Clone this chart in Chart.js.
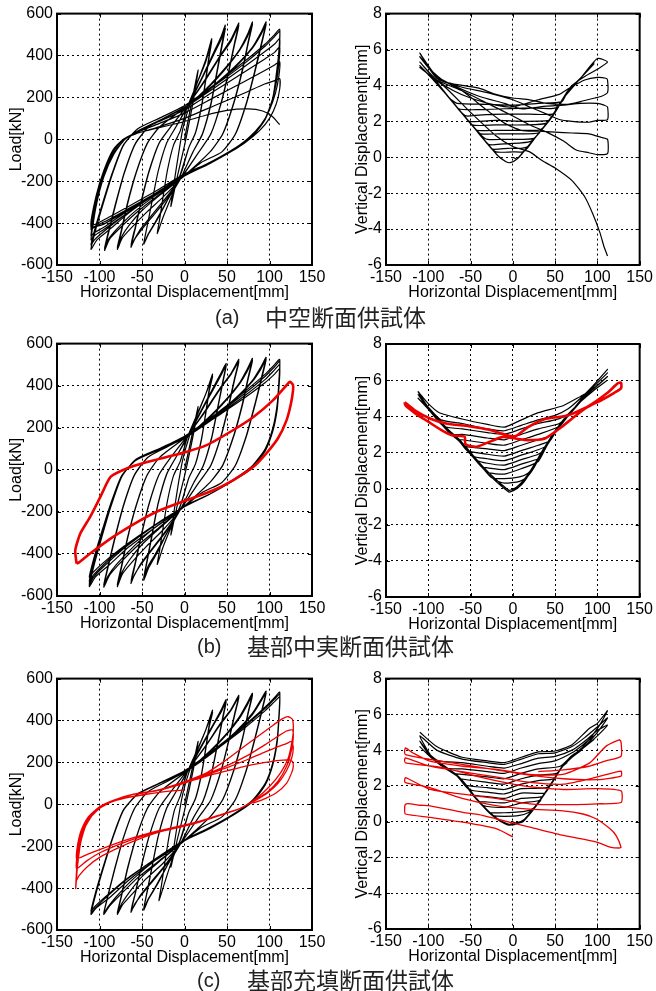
<!DOCTYPE html>
<html><head><meta charset="utf-8">
<script src="https://cdn.jsdelivr.net/npm/chart.js@4/dist/chart.umd.min.js"></script>
<style>
html,body{margin:0;padding:0;background:#fff}
body{width:656px;height:991px;position:relative;overflow:hidden;font-family:"Liberation Sans",Arial,sans-serif}
canvas{position:absolute}
.cl{position:absolute;font-family:"Liberation Sans",Arial,sans-serif;font-size:20px;color:#222;line-height:26px;white-space:pre}
.cj{position:absolute;font-family:"Noto Sans CJK JP",sans-serif;font-size:23px;color:#222;line-height:26px;white-space:pre}
</style></head><body>
<canvas id="aL" width="330" height="305" style="left:0;top:0"></canvas>
<canvas id="aR" width="326" height="305" style="left:330px;top:0"></canvas>
<canvas id="bL" width="330" height="306" style="left:0;top:330px"></canvas>
<canvas id="bR" width="326" height="307" style="left:330px;top:330px"></canvas>
<canvas id="cL" width="330" height="305" style="left:0;top:665px"></canvas>
<canvas id="cR" width="326" height="304" style="left:330px;top:665px"></canvas>
<div class="cl" style="left:215px;top:304px">(a)</div><div class="cj" style="left:265px;top:303px">中空断面供試体</div>
<div class="cl" style="left:197px;top:633px">(b)</div><div class="cj" style="left:247px;top:632px">基部中実断面供試体</div>
<div class="cl" style="left:197px;top:967px">(c)</div><div class="cj" style="left:247px;top:966px">基部充填断面供試体</div>
<script>
// ---- axis ticks ----
const xTicks = [-150,-100,-50,0,50,100,150];
const loadTicks = [-600,-400,-200,0,200,400,600];
const vertTicks = [-6,-4,-2,0,2,4,6,8];
const xTitle = 'Horizontal Displacement[mm]';
const loadTitle = 'Load[kN]';
const vertTitle = 'Vertical Displacement[mm]';

// ---- (a) hollow section: load vs horizontal displacement ----
const hollowLoad = [
[0,0],[8,170],[16,330],[12,220],[6,90],[0,-30],[-8,-170],[-16,-320],
[-12,-200],[-7,-70],[-2,50],[5,150],[15,270],[25,380],[32,480],
[29,402],[25,288],[20,158],[13,33],[5,-40],[-3,-150],[-15,-270],[-25,-370],[-32,-450],
[-29,-376],[-25,-269],[-20,-146],[-13,-29],[-5,40],[3,150],[15,270],[25,370],[32,470],
[29,393],[25,281],[20,154],[13,31],[5,-40],[-6,-180],[-20,-290],[-33,-390],[-42,-450],[-48,-500],
[-44,-416],[-38,-293],[-31,-153],[-21,-18],[-10,60],[5,170],[20,290],[35,420],[43,490],[48,545],
[44,454],[38,321],[31,170],[21,25],[10,-60],[-5,-190],[-20,-290],[-35,-400],[-43,-455],[-48,-500],
[-44,-416],[-38,-293],[-31,-153],[-21,-18],[-10,60],[5,165],[20,285],[35,410],[43,475],[48,530],
[44,441],[38,312],[31,164],[21,23],[10,-60],[-5,-190],[-22,-290],[-40,-380],[-52,-440],[-59,-480],[-63,-515],
[-58,-429],[-51,-302],[-42,-159],[-30,-20],[-16,60],[5,170],[25,290],[42,400],[55,480],[64,555],
[59,463],[52,327],[43,174],[31,26],[17,-60],[-5,-190],[-22,-280],[-40,-370],[-52,-430],[-63,-505],
[-58,-420],[-51,-296],[-42,-155],[-30,-19],[-16,60],[5,170],[25,285],[42,395],[55,470],[64,545],
[59,454],[52,321],[43,170],[31,25],[17,-60],[-5,-190],[-25,-275],[-45,-350],[-62,-420],[-73,-470],[-79,-525],
[-74,-437],[-67,-309],[-57,-162],[-44,-22],[-29,60],[5,165],[30,260],[50,350],[65,430],[74,500],[80,560],
[75,467],[68,331],[58,176],[45,27],[30,-60],[-5,-190],[-30,-270],[-50,-340],[-65,-410],[-74,-465],[-79,-515],
[-74,-429],[-67,-302],[-57,-159],[-44,-20],[-29,60],[5,165],[30,255],[50,345],[65,425],[74,490],[80,550],
[75,459],[68,324],[58,172],[45,25],[30,-60],[-5,-190],[-30,-265],[-55,-345],[-75,-420],[-88,-475],[-94,-530],
[-89,-442],[-81,-312],[-71,-164],[-58,-23],[-42,60],[-20,110],[5,165],[35,260],[60,350],[80,440],[90,510],[96,560],
[91,467],[83,331],[73,176],[60,27],[44,-60],[20,-110],[-5,-190],[-35,-270],[-60,-350],[-80,-430],[-90,-480],[-94,-520],
[-89,-433],[-81,-305],[-71,-160],[-58,-21],[-42,60],[-20,110],[5,165],[35,255],[60,345],[80,435],[90,500],[96,550],
[91,459],[83,324],[73,172],[60,25],[44,-60],[20,-110],[-5,-190],[-35,-265],[-65,-350],[-88,-430],[-103,-480],[-110,-525],
[-105,-439],[-96,-312],[-85,-168],[-72,-30],[-55,50],[-30,100],[0,160],[35,260],[70,370],[95,455],[106,500],[112,525],
[111,420],[108,310],[104,200],[95,100],[80,20],[60,-40],[30,-110],[0,-170],[-35,-260],[-70,-360],[-95,-440],[-106,-480],[-110,-505],
[-105,-422],[-96,-300],[-85,-161],[-72,-28],[-55,50],[-30,100],[0,160],[35,255],[70,360],[95,445],[106,490],[112,515],
[111,410],[108,300],[104,195],[95,95],[80,15],[60,-45],[30,-115],[0,-175],[-35,-265],[-70,-360],[-95,-430],[-106,-460],[-110,-480],
[-104,-320],[-95,-180],[-83,-70],[-70,0],[-55,40],[-30,90],[0,150],[35,245],[70,345],[95,420],[106,455],[112,480],
[111,380],[108,280],[103,180],[94,90],[80,15],[60,-45],[30,-115],[0,-175],[-35,-265],[-70,-350],[-95,-420],[-106,-445],[-110,-460],
[-104,-310],[-95,-175],[-83,-65],[-70,0],[-55,38],[-30,85],[0,140],[35,230],[70,320],[95,385],[106,415],[112,440],
[111,360],[108,270],[102,170],[93,85],[78,10],[60,-45],[30,-115],[0,-175],[-35,-265],[-70,-345],[-95,-405],[-106,-420],[-110,-430],
[-104,-290],[-95,-165],[-84,-60],[-72,0],[-58,30],[-30,75],[0,125],[35,200],[70,275],[95,330],[106,355],[112,370],
[111,300],[107,220],[100,140],[90,70],[75,5],[55,-55],[30,-115],[0,-175],[-35,-260],[-70,-340],[-95,-395],[-110,-420],
[-104,-280],[-95,-160],[-84,-55],[-72,0],[-58,25],[-30,60],[0,100],[35,160],[70,220],[95,265],[106,280],[112,290],
[112,240],[108,170],[100,100],[88,40],[70,-20],[50,-70],[25,-120],[0,-165],[-35,-250],[-70,-330],[-95,-385],[-110,-410],
[-104,-270],[-95,-150],[-84,-50],[-72,0],[-55,30],[-30,55],[0,85],[25,115],[50,138],[75,145],[92,135],[103,110],[112,70]
];

// ---- (a) hollow section: vertical vs horizontal displacement ----
const hollowVert = [
[0,0],[5,-0.1],[16,0.5],[5,-0.1],[-3,-0.3],[-8,-0.25],[-16,0.0],
[-8,-0.25],[-3,-0.3],[5,-0.1],[15,0.45],[30,1.3],[32,1.4],
[25,1.0],[17,0.5],[12,0.3],[0,0.3],[-20,0.3],[-30,0.75],[-32,0.85],
[-18,0.1],[-8,-0.25],[-3,-0.3],[5,-0.1],[15,0.45],[30,1.3],[32,1.4],
[22,0.85],[18,0.6],[10,0.5],[-5,0.5],[-24,0.45],[-30,0.75],[-40,1.3],[-48,1.8],
[-45,1.6],[-30,0.75],[-18,0.1],[-8,-0.25],[-3,-0.3],[5,-0.1],[15,0.45],[30,1.3],[45,2.2],[48,2.4],
[40,1.9],[30,1.3],[22,0.9],[10,0.8],[-10,0.75],[-28,0.7],[-35,1.05],[-45,1.6],[-48,1.8],
[-40,1.3],[-30,0.75],[-18,0.1],[-8,-0.25],[-3,-0.3],[5,-0.1],[15,0.45],[30,1.3],[45,2.2],[48,2.4],
[35,1.6],[25,1.05],[10,1.0],[-10,1.0],[-30,1.0],[-38,1.25],[-50,1.9],[-63,2.6],
[-45,1.6],[-30,0.75],[-18,0.1],[-8,-0.25],[-3,-0.3],[5,-0.1],[15,0.45],[30,1.3],[45,2.2],[55,2.9],[64,3.6],
[50,2.5],[38,1.75],[30,1.35],[10,1.3],[-15,1.3],[-38,1.3],[-42,1.45],[-55,2.15],[-63,2.6],
[-50,1.9],[-30,0.75],[-18,0.1],[-8,-0.25],[-3,-0.3],[5,-0.1],[15,0.45],[30,1.3],[45,2.2],[55,2.9],[64,3.6],
[48,2.35],[33,1.55],[10,1.5],[-20,1.5],[-42,1.5],[-50,1.9],[-60,2.45],[-79,3.5],
[-60,2.45],[-45,1.6],[-30,0.75],[-18,0.1],[-8,-0.25],[-3,-0.3],[5,-0.1],[15,0.45],[30,1.3],[45,2.2],[55,2.9],[65,3.7],[80,4.4],
[65,3.7],[50,2.55],[40,1.9],[15,1.8],[-20,1.8],[-48,1.8],[-60,2.45],[-79,3.5],
[-60,2.45],[-45,1.6],[-30,0.75],[-18,0.1],[-8,-0.25],[-3,-0.3],[5,-0.1],[15,0.45],[30,1.3],[45,2.2],[55,2.9],[65,3.7],[80,4.4],
[60,3.3],[45,2.2],[43,2.05],[15,2.0],[-20,2.05],[-51,2.0],[-60,2.45],[-75,3.3],[-94,4.3],
[-75,3.3],[-60,2.45],[-45,1.6],[-30,0.75],[-18,0.1],[-8,-0.25],[-3,-0.3],[5,-0.1],[15,0.45],[30,1.3],[45,2.2],[55,2.9],[65,3.7],[80,4.4],[96,5.2],
[80,4.4],[65,3.7],[52,2.7],[47,2.4],[20,2.4],[-10,2.4],[-40,2.35],[-55,2.3],[-62,2.55],[-75,3.3],[-94,4.3],
[-75,3.3],[-60,2.45],[-45,1.6],[-30,0.75],[-18,0.1],[-8,-0.25],[-3,-0.3],[5,-0.1],[15,0.45],[30,1.3],[45,2.2],[55,2.9],[65,3.7],[80,4.4],[96,5.3],
[80,4.4],[65,3.7],[51,2.75],[20,2.75],[-10,2.7],[-40,2.65],[-64,2.7],[-75,3.3],[-90,4.1],[-110,5.1],
[-87,4.0],[-75,3.3],[-60,2.45],[-45,1.6],[-30,0.75],[-18,0.1],[-8,-0.25],[-3,-0.3],[5,-0.1],[15,0.45],[30,1.3],[45,2.2],[55,2.9],[65,3.7],[80,4.4],[100,5.5],[112,5.3],
[100,4.9],[85,4.5],[70,4.0],[65,3.7],[58,3.1],[30,3.0],[0,2.9],[-30,2.95],[-66,3.0],[-75,3.3],[-90,4.2],[-110,5.3],
[-90,4.3],[-70,3.7],[-50,3.3],[-20,2.9],[0,2.8],[30,3.2],[55,3.5],[65,3.8],[85,4.3],[100,4.45],[110,4.4],[112,4.3],[112,3.6],[105,3.4],[97,3.3],[80,3.1],[65,2.95],[40,3.0],[20,3.2],[0,3.3],[-20,3.5],[-40,3.85],[-60,4.0],[-80,4.2],[-100,5.0],[-110,5.6],
[-90,4.5],[-70,4.0],[-40,3.4],[-10,3.0],[10,2.7],[40,2.85],[60,2.9],[80,3.0],[100,3.0],[108,2.9],[112,2.8],[112,2.1],[100,2.05],[90,1.95],[70,2.0],[55,2.1],[40,2.4],[20,2.8],[0,3.2],[-30,3.6],[-60,3.9],[-90,4.4],[-110,5.8],
[-90,4.5],[-60,3.7],[-30,2.6],[-10,1.9],[10,1.5],[30,1.45],[50,1.4],[70,1.35],[90,1.3],[105,1.1],[112,1.0],[112,0.2],[100,0.15],[90,0.25],[75,0.4],[60,0.9],[40,1.4],[20,1.8],[0,2.3],[-30,3.0],[-60,3.7],[-90,4.3],[-110,5.0],
[-80,3.9],[-50,2.5],[-20,1.2],[0,0.6],[20,0.3],[35,-0.2],[50,-0.6],[70,-1.3],[85,-2.2],[95,-3.2],[103,-4.2],[108,-5.0],[112,-5.5]
];

// ---- (b) solid base section ----
const solidLoad = [
[0,0],[8,150],[16,300],[12,200],[6,80],[0,-30],[-8,-160],[-16,-310],
[-12,-190],[-7,-60],[-2,50],[5,150],[15,260],[25,360],[33,455],
[29,381],[25,272],[20,148],[13,29],[5,-40],[-3,-150],[-15,-265],[-25,-365],[-32,-450],
[-29,-376],[-25,-269],[-20,-146],[-13,-29],[-5,40],[3,150],[15,265],[25,360],[33,445],
[29,372],[25,266],[20,144],[13,28],[5,-40],[-6,-185],[-20,-295],[-33,-400],[-42,-465],[-48,-525],
[-44,-437],[-38,-309],[-31,-162],[-21,-22],[-10,60],[5,170],[20,285],[35,400],[43,460],[49,505],
[45,420],[39,296],[32,155],[22,19],[11,-60],[-5,-190],[-20,-295],[-35,-405],[-43,-460],[-48,-515],
[-44,-429],[-38,-302],[-31,-159],[-21,-20],[-10,60],[5,165],[20,280],[35,390],[43,450],[49,495],
[45,412],[39,290],[32,151],[22,18],[11,-60],[-5,-190],[-22,-295],[-40,-390],[-52,-455],[-59,-500],[-63,-540],
[-58,-450],[-51,-318],[-42,-168],[-30,-24],[-16,60],[5,170],[25,285],[42,390],[55,460],[64,525],
[59,437],[52,309],[43,162],[31,22],[17,-60],[-5,-190],[-22,-290],[-40,-385],[-52,-450],[-63,-530],
[-58,-442],[-51,-312],[-42,-164],[-30,-23],[-16,60],[5,170],[25,280],[42,385],[55,455],[64,515],
[59,429],[52,302],[43,159],[31,20],[17,-60],[-5,-190],[-25,-285],[-45,-365],[-62,-440],[-73,-495],[-79,-555],
[-74,-463],[-67,-327],[-57,-174],[-44,-26],[-29,60],[5,165],[30,255],[50,340],[65,415],[74,480],[80,530],
[75,442],[68,312],[58,164],[45,23],[30,-60],[-5,-190],[-30,-280],[-50,-355],[-65,-430],[-74,-490],[-79,-545],
[-74,-454],[-67,-321],[-57,-170],[-44,-25],[-29,60],[5,165],[30,250],[50,335],[65,410],[74,470],[80,520],
[75,433],[68,305],[58,160],[45,21],[30,-60],[-5,-190],[-30,-275],[-55,-360],[-75,-440],[-88,-500],[-95,-558],
[-90,-465],[-82,-329],[-72,-175],[-59,-27],[-43,60],[-20,110],[5,165],[35,255],[60,340],[80,425],[90,490],[96,535],
[91,446],[83,315],[73,166],[60,23],[44,-60],[20,-110],[-5,-190],[-35,-275],[-60,-365],[-80,-450],[-90,-505],[-95,-548],
[-90,-457],[-82,-323],[-72,-171],[-59,-25],[-43,60],[-20,110],[5,165],[35,250],[60,335],[80,420],[90,480],[96,525],
[91,437],[83,309],[73,162],[60,22],[44,-60],[20,-110],[-5,-190],[-35,-275],[-65,-365],[-88,-450],[-105,-510],[-112,-555],
[-107,-464],[-98,-331],[-87,-180],[-74,-35],[-57,50],[-30,100],[0,160],[35,260],[70,370],[95,455],[106,500],[112,525],
[111,420],[109,310],[104,200],[95,100],[80,20],[60,-40],[30,-115],[0,-175],[-35,-265],[-70,-370],[-95,-460],[-107,-510],[-112,-545],
[-107,-456],[-98,-325],[-87,-176],[-74,-33],[-57,50],[-30,100],[0,160],[35,255],[70,360],[95,445],[106,490],[112,515],
[111,410],[109,300],[104,195],[95,95],[80,15],[60,-45],[30,-115],[0,-175],[-35,-265],[-70,-365],[-95,-450],[-107,-500],[-112,-530],
[-107,-443],[-98,-315],[-87,-170],[-74,-31],[-57,48],[-30,98],[0,155],[35,250],[70,350],[95,430],[106,475],[112,500],
[111,400],[109,295],[104,190],[95,92],[80,12],[60,-45],[30,-115],[0,-175],[-35,-262],[-70,-360],[-95,-440],[-107,-485],[-112,-510],
[-107,-426],[-98,-303],[-87,-163],[-74,-28],[-57,45],[-30,95],[0,150],[35,245],[70,340],[95,415],[106,455],[112,480],
[111,385],[109,285],[104,185],[95,90],[80,10],[60,-45],[30,-115],[0,-170]
];
const solidLoadRed = [
[-127,-446],[-128.5,-382],[-122.6,-303],[-111,-224],[-99,-129],[-87,-34],[-68,6],[-44,37],[-21,61],[2,85],[26,117],[57,188],[81,251],[104,330],[120,402],[124,418],[127.5,405],[127.7,378],
[125,310],[120,235],[110,150],[96,77],[81,14],[57,-50],[34,-97],[2,-145],[-29,-192],[-52,-240],[-84,-319],[-111,-398],[-124,-440],[-127,-446]
];
const solidVert = [
[0,0],[5,0.0],[16,0.55],[10,0.2],[-4,-0.2],[-10,0.0],[-16,0.25],
[-10,0.0],[-4,-0.2],[5,0.0],[15,0.5],[25,1.2],[33,1.85],
[25,1.15],[18,0.7],[8,0.4],[-10,0.3],[-22,0.5],[-32,0.95],
[-20,0.4],[-10,0.0],[-4,-0.2],[5,0.0],[15,0.5],[25,1.2],[33,1.85],
[26,1.3],[18,0.85],[8,0.65],[-10,0.55],[-25,0.6],[-35,1.1],[-48,1.8],
[-35,1.1],[-20,0.4],[-10,0.0],[-4,-0.2],[5,0.0],[15,0.5],[25,1.2],[35,2.0],[49,3.0],
[40,2.35],[30,1.5],[10,1.1],[-10,0.8],[-30,0.9],[-40,1.35],[-48,1.8],
[-35,1.1],[-20,0.4],[-10,0.0],[-4,-0.2],[5,0.0],[15,0.5],[25,1.2],[35,2.0],[49,3.0],
[40,2.4],[33,1.85],[30,1.65],[10,1.35],[-10,1.05],[-30,1.15],[-37,1.2],[-50,1.9],[-63,2.6],
[-50,1.9],[-35,1.1],[-20,0.4],[-10,0.0],[-4,-0.2],[5,0.0],[15,0.5],[25,1.2],[35,2.0],[50,3.1],[64,3.95],
[50,3.1],[37,2.15],[30,1.9],[10,1.6],[-10,1.3],[-30,1.4],[-44,1.6],[-50,1.9],[-63,2.6],
[-50,1.9],[-35,1.1],[-20,0.4],[-10,0.0],[-4,-0.2],[5,0.0],[15,0.5],[25,1.2],[35,2.0],[50,3.1],[64,3.95],
[50,3.1],[39,2.35],[30,2.15],[10,1.85],[-10,1.55],[-30,1.65],[-48,1.8],[-63,2.6],[-79,3.3],
[-63,2.6],[-50,1.9],[-35,1.1],[-20,0.4],[-10,0.0],[-4,-0.2],[5,0.0],[15,0.5],[25,1.2],[35,2.0],[50,3.1],[65,4.0],[80,4.8],
[65,4.0],[50,3.1],[44,2.65],[30,2.4],[10,2.1],[-10,1.8],[-30,1.9],[-54,2.1],[-63,2.6],[-79,3.3],
[-63,2.6],[-50,1.9],[-35,1.1],[-20,0.4],[-10,0.0],[-4,-0.2],[5,0.0],[15,0.5],[25,1.2],[35,2.0],[50,3.1],[65,4.0],[80,4.8],
[65,4.0],[52,3.2],[47,2.95],[30,2.7],[10,2.4],[-10,2.1],[-30,2.2],[-58,2.35],[-63,2.6],[-75,3.1],[-87,3.7],[-95,4.2],
[-87,3.7],[-75,3.1],[-63,2.6],[-50,1.9],[-35,1.1],[-20,0.4],[-10,0.0],[-4,-0.2],[5,0.0],[15,0.5],[25,1.2],[35,2.0],[50,3.1],[65,4.0],[80,4.8],[96,5.6],
[80,4.8],[65,4.0],[55,3.45],[30,3.0],[10,2.7],[-10,2.4],[-30,2.5],[-60,2.7],[-65,2.7],[-75,3.1],[-87,3.7],[-95,4.2],
[-87,3.7],[-75,3.1],[-63,2.6],[-50,1.9],[-35,1.1],[-20,0.4],[-10,0.0],[-4,-0.2],[5,0.0],[15,0.5],[25,1.2],[35,2.0],[50,3.1],[65,4.0],[80,4.8],[96,5.7],
[80,4.8],[65,4.0],[55,3.6],[30,3.3],[10,3.0],[-10,2.7],[-30,2.8],[-60,3.0],[-73,3.0],[-87,3.7],[-100,4.4],[-112,5.0],
[-100,4.4],[-87,3.7],[-75,3.1],[-63,2.6],[-50,1.9],[-35,1.1],[-20,0.4],[-10,0.0],[-4,-0.2],[5,0.0],[15,0.5],[25,1.2],[35,2.0],[50,3.1],[65,4.0],[80,4.8],[95,5.6],[112,6.4],
[95,5.6],[80,4.8],[65,4.1],[50,3.8],[30,3.6],[10,3.3],[-10,3.0],[-30,3.1],[-60,3.3],[-82,3.45],[-100,4.4],[-112,5.0],
[-100,4.4],[-87,3.7],[-75,3.1],[-63,2.6],[-50,1.9],[-35,1.1],[-20,0.4],[-10,0.0],[-4,-0.2],[5,0.0],[15,0.5],[25,1.2],[35,2.0],[50,3.1],[65,4.0],[80,4.9],[95,5.7],[112,6.6],
[95,5.7],[80,5.0],[65,4.4],[50,4.05],[30,3.8],[10,3.5],[-10,3.2],[-30,3.3],[-60,3.6],[-85,3.8],[-100,4.5],[-112,5.2],
[-100,4.4],[-87,3.7],[-75,3.1],[-63,2.6],[-50,1.9],[-35,1.1],[-20,0.4],[-10,0.0],[-4,-0.2],[5,0.0],[15,0.5],[25,1.2],[35,2.0],[50,3.1],[65,4.0],[80,4.8],[95,5.5],[112,6.2],
[95,5.5],[80,5.1],[60,4.6],[30,4.2],[10,3.8],[-10,3.4],[-30,3.55],[-60,3.85],[-87,4.2],[-100,4.7],[-112,5.36],
[-100,4.5],[-87,3.8],[-75,3.2],[-63,2.7],[-50,2.0],[-35,1.2],[-20,0.5],[-10,0.1],[-4,-0.1],[5,0.1],[15,0.6],[25,1.3],[35,2.1],[50,3.2],[65,4.1],[80,4.8],[95,5.4],[112,6.0]
];
const solidVertRed = [
[-128,4.78],[-115,4.3],[-98,3.88],[-79,3.6],[-52,3.45],[-28,3.25],[-9,2.98],[3,2.9],[18,3.4],[38,3.85],[65,4.05],[89,4.55],[112,5.3],[124,5.82],[128,5.86],[128,5.55],
[120,5.3],[105,4.9],[88,4.5],[72,3.95],[58,3.42],[38,2.77],[18,2.68],[3,2.77],[-12,2.86],[-32,2.5],[-44,2.31],[-56,2.45],[-57,2.87],[-72,2.95],[-85,3.25],[-100,3.7],[-115,4.15],[-127,4.6],[-128,4.78]
];

// ---- (c) filled base section ----
const filledLoad = [
[0,0],[8,150],[16,300],[12,200],[6,80],[0,-30],[-8,-160],[-16,-300],
[-12,-190],[-7,-60],[-2,50],[5,150],[15,255],[25,355],[33,450],
[29,377],[25,269],[20,146],[13,29],[5,-40],[-3,-150],[-15,-270],[-23,-370],[-30,-460],
[-27,-385],[-23,-275],[-18,-150],[-12,-30],[-5,40],[3,150],[15,260],[25,355],[33,440],
[29,368],[25,262],[20,142],[13,27],[5,-40],[-6,-180],[-20,-290],[-33,-390],[-42,-450],[-48,-505],
[-44,-420],[-38,-296],[-31,-155],[-21,-19],[-10,60],[5,170],[20,280],[35,390],[43,450],[49,500],
[45,416],[39,293],[32,153],[22,18],[11,-60],[-5,-190],[-20,-290],[-35,-400],[-43,-455],[-48,-500],
[-44,-416],[-38,-293],[-31,-153],[-21,-18],[-10,60],[5,165],[20,275],[35,385],[43,440],[49,490],
[45,408],[39,287],[32,149],[22,17],[11,-60],[-5,-190],[-22,-290],[-40,-380],[-52,-440],[-59,-480],[-63,-515],
[-58,-429],[-51,-302],[-42,-159],[-30,-20],[-16,60],[5,170],[25,280],[42,385],[55,455],[64,520],
[59,433],[52,305],[43,160],[31,21],[17,-60],[-5,-190],[-22,-285],[-40,-375],[-52,-435],[-63,-510],
[-58,-425],[-51,-299],[-42,-157],[-30,-20],[-16,60],[5,170],[25,278],[42,380],[55,450],[64,512],
[59,426],[52,300],[43,157],[31,20],[17,-60],[-5,-190],[-25,-280],[-45,-355],[-62,-430],[-73,-480],[-79,-525],
[-74,-437],[-67,-309],[-57,-162],[-44,-22],[-29,60],[5,165],[30,255],[50,340],[65,420],[74,485],[80,530],
[75,442],[68,312],[58,164],[45,23],[30,-60],[-5,-190],[-30,-275],[-50,-345],[-65,-420],[-74,-475],[-79,-518],
[-74,-431],[-67,-304],[-57,-160],[-44,-21],[-29,60],[5,165],[30,250],[50,335],[65,412],[74,475],[80,522],
[75,435],[68,307],[58,161],[45,22],[30,-60],[-5,-190],[-30,-270],[-55,-350],[-75,-430],[-88,-485],[-95,-525],
[-90,-437],[-82,-309],[-72,-162],[-59,-22],[-43,60],[-20,110],[5,165],[35,255],[60,345],[80,435],[90,500],[96,540],
[91,450],[83,318],[73,168],[60,24],[44,-60],[20,-110],[-5,-190],[-35,-270],[-60,-355],[-80,-440],[-90,-490],[-95,-520],
[-90,-433],[-82,-305],[-72,-160],[-59,-21],[-43,60],[-20,110],[5,165],[35,252],[60,340],[80,428],[90,492],[96,532],
[91,443],[83,313],[73,165],[60,23],[44,-60],[20,-110],[-5,-190],[-35,-270],[-65,-360],[-88,-445],[-104,-495],[-110,-525],
[-105,-439],[-96,-312],[-85,-168],[-72,-30],[-55,50],[-30,100],[0,160],[35,262],[70,375],[95,465],[106,510],[112,535],
[111,420],[109,310],[104,200],[95,100],[80,20],[60,-40],[30,-110],[0,-170],[-35,-262],[-70,-365],[-95,-455],[-106,-500],[-110,-520],
[-105,-435],[-96,-309],[-85,-167],[-72,-30],[-55,50],[-30,100],[0,160],[35,260],[70,370],[95,458],[106,502],[112,525],
[111,412],[109,302],[104,196],[95,96],[80,16],[60,-44],[30,-114],[0,-174],[-35,-264],[-70,-362],[-95,-448],[-106,-490],[-110,-510],
[-105,-426],[-96,-303],[-85,-163],[-72,-28],[-55,48],[-30,98],[0,156],[35,255],[70,362],[95,447],[106,490],[112,512],
[111,400],[109,295],[104,190],[95,92],[80,12],[60,-45],[30,-115],[0,-172]
];
const filledLoadRed = [
[0,68],[-20,62],[-45,48],[-70,30],[-88,8],[-105,-35],[-117,-110],[-124,-220],[-127,-320],[-128,-402],
[-126,-300],[-122,-180],[-114,-80],[-100,-20],[-83,18],[-60,48],[-33,66],[-13,90],[3,112],[26,150],[45,200],[65,260],[85,320],[105,380],[115,408],[122,418],[127,405],[128,350],
[126,290],[122,220],[113,150],[100,85],[85,30],[65,-21],[42,-53],[18,-85],[-5,-109],[-29,-132],[-52,-164],[-76,-204],[-99,-251],[-115,-300],[-124,-340],[-127,-362],
[-126,-270],[-122,-165],[-114,-75],[-100,-18],[-83,18],[-60,48],[-33,66],[-13,88],[3,110],[26,145],[50,185],[75,235],[95,285],[110,325],[120,350],[127,355],
[128,320],[126,260],[120,180],[110,110],[98,60],[85,25],[65,-20],[42,-52],[18,-83],[-5,-106],[-29,-128],[-52,-155],[-76,-190],[-99,-230],[-115,-270],[-127,-307],
[-126,-230],[-122,-150],[-114,-70],[-100,-15],[-83,20],[-60,48],[-33,65],[-13,86],[3,108],[26,140],[50,175],[75,215],[95,250],[110,275],[120,290],[126,300],
[128,270],[126,220],[120,160],[110,100],[98,55],[85,22],[65,-20],[42,-50],[18,-80],[-5,-103],[-29,-125],[-52,-150],[-76,-180],[-99,-215],[-115,-240],[-127,-259],
[-126,-200],[-122,-130],[-114,-65],[-100,-12],[-83,20],[-60,47],[-33,64],[-13,85],[3,105],[26,135],[50,160],[75,185],[95,200],[112,210],[122,212],[127,205],[128,180],
[126,150],[120,100],[108,55],[92,22],[80,5]
];
const filledVert = [
[0,0],[5,-0.1],[16,0.2],[8,-0.05],[-4,-0.2],[-10,-0.1],[-16,0.05],
[-10,-0.1],[-4,-0.2],[5,-0.1],[12,0.0],[20,0.45],[28,0.9],[33,1.2],
[25,0.75],[18,0.5],[8,0.35],[-10,0.3],[-24,0.35],[-30,0.6],
[-19,0.15],[-10,-0.1],[-4,-0.2],[5,-0.1],[12,0.0],[20,0.45],[28,0.9],[33,1.2],
[27,0.85],[20,0.65],[8,0.55],[-10,0.5],[-27,0.5],[-30,0.6],[-43,1.26],[-48,1.5],
[-43,1.26],[-30,0.6],[-19,0.15],[-10,-0.1],[-4,-0.2],[5,-0.1],[12,0.0],[28,0.9],[44,2.0],[49,2.35],
[40,1.75],[32,1.2],[10,1.05],[-10,0.8],[-30,0.85],[-37,0.95],[-43,1.26],[-48,1.5],
[-43,1.26],[-30,0.6],[-19,0.15],[-10,-0.1],[-4,-0.2],[5,-0.1],[12,0.0],[28,0.9],[44,2.0],[49,2.35],
[40,1.75],[35,1.4],[10,1.3],[-10,1.05],[-30,1.1],[-41,1.15],[-55,2.0],[-63,2.4],
[-55,2.0],[-43,1.26],[-30,0.6],[-19,0.15],[-10,-0.1],[-4,-0.2],[5,-0.1],[12,0.0],[28,0.9],[44,2.0],[59,3.1],[64,3.3],
[59,3.1],[44,2.0],[38,1.6],[10,1.6],[-10,1.3],[-30,1.4],[-47,1.5],[-55,2.0],[-63,2.4],
[-55,2.0],[-43,1.26],[-30,0.6],[-19,0.15],[-10,-0.1],[-4,-0.2],[5,-0.1],[12,0.0],[28,0.9],[44,2.0],[59,3.1],[64,3.3],
[59,3.1],[48,2.3],[40,1.9],[10,1.85],[-10,1.55],[-30,1.65],[-52,1.8],[-66,2.55],[-79,2.95],
[-66,2.55],[-55,2.0],[-43,1.26],[-30,0.6],[-19,0.15],[-10,-0.1],[-4,-0.2],[5,-0.1],[12,0.0],[28,0.9],[44,2.0],[59,3.1],[70,3.6],[80,3.95],
[70,3.6],[59,3.1],[48,2.4],[30,2.3],[10,2.1],[-10,1.8],[-30,1.9],[-56,2.05],[-66,2.55],[-79,2.95],
[-66,2.55],[-55,2.0],[-43,1.26],[-30,0.6],[-19,0.15],[-10,-0.1],[-4,-0.2],[5,-0.1],[12,0.0],[28,0.9],[44,2.0],[59,3.1],[70,3.6],[80,4.0],
[70,3.6],[59,3.1],[52,2.7],[30,2.6],[10,2.4],[-10,2.1],[-30,2.2],[-62,2.4],[-66,2.55],[-85,3.2],[-95,3.5],
[-85,3.2],[-66,2.55],[-55,2.0],[-43,1.26],[-30,0.6],[-19,0.15],[-10,-0.1],[-4,-0.2],[5,-0.1],[12,0.0],[28,0.9],[44,2.0],[59,3.1],[70,3.6],[83,4.1],[96,4.6],
[83,4.1],[70,3.7],[56,3.1],[30,2.95],[10,2.7],[-10,2.4],[-30,2.5],[-60,2.65],[-70,2.7],[-85,3.2],[-95,3.5],
[-85,3.2],[-66,2.55],[-55,2.0],[-43,1.26],[-30,0.6],[-19,0.15],[-10,-0.1],[-4,-0.2],[5,-0.1],[12,0.0],[28,0.9],[44,2.0],[59,3.1],[70,3.6],[83,4.1],[96,4.8],
[83,4.3],[70,3.85],[50,3.4],[30,3.25],[10,3.0],[-10,2.7],[-30,2.8],[-60,2.95],[-80,3.0],[-97,3.6],[-110,4.2],
[-97,3.6],[-85,3.2],[-66,2.55],[-55,2.0],[-43,1.26],[-30,0.6],[-19,0.15],[-10,-0.1],[-4,-0.2],[5,-0.1],[12,0.0],[28,0.9],[44,2.0],[59,3.1],[70,3.6],[83,4.1],[100,4.8],[112,5.4],
[100,5.1],[85,4.5],[70,4.0],[50,3.65],[30,3.55],[10,3.25],[-10,3.0],[-30,3.1],[-60,3.3],[-88,3.4],[-97,3.7],[-110,4.5],
[-97,3.6],[-85,3.2],[-66,2.55],[-55,2.0],[-43,1.26],[-30,0.6],[-19,0.15],[-10,-0.1],[-4,-0.2],[5,-0.1],[12,0.0],[28,0.9],[44,2.0],[59,3.1],[70,3.6],[83,4.1],[100,5.0],[112,5.8],
[100,5.3],[85,4.7],[70,4.2],[50,3.85],[30,3.8],[10,3.5],[-10,3.2],[-30,3.3],[-60,3.5],[-90,4.0],[-110,4.8],
[-97,3.7],[-85,3.25],[-66,2.6],[-55,2.05],[-43,1.3],[-30,0.65],[-19,0.2],[-10,-0.05],[-4,-0.15],[5,-0.05],[12,0.05],[28,0.95],[44,2.05],[59,3.15],[70,3.65],[83,4.2],[100,5.2],[112,6.2],
[100,5.5],[90,5.2],[70,4.3],[50,3.95],[30,3.9],[10,3.6],[-10,3.3],[-30,3.4],[-60,3.6],[-90,4.2],[-110,5.0]
];
const filledVertRed = [
[0,-0.85],[-19,-0.4],[-59,-0.03],[-98,0.24],[-127,0.43],[-128,0.7],[-127,0.98],[-121,1.0],[-110,0.92],[-98,0.89],[-59,0.52],[-40,0.4],[-19,0.15],[20,-0.3],[60,-0.77],[99,-1.14],[115,-1.42],[126,-1.47],[128,-1.42],
[122,-0.77],[115,-0.4],[99,0.15],[83,0.43],[59,0.61],[20,0.7],[-20,0.9],[-60,1.3],[-98,1.9],[-127,2.18],
[-128,2.3],[-127,2.46],[-98,1.81],[-59,1.54],[-20,1.3],[20,1.0],[60,0.95],[100,1.0],[128,1.07],
[128,1.72],[100,1.85],[60,1.8],[30,1.9],[0,2.1],[-40,2.5],[-80,3.0],[-127,3.29],
[-128,3.45],[-127,3.57],[-98,3.1],[-60,2.8],[-20,2.5],[20,2.2],[60,2.1],[100,2.5],[128,2.83],
[128,2.55],[100,2.35],[60,2.4],[20,2.6],[-20,2.9],[-60,3.2],[-100,3.5],[-127,3.75],
[-128,3.9],[-127,4.12],[-118,3.84],[-98,3.38],[-59,3.1],[-19,2.92],[20,2.64],[59,2.64],[91,3.29],[110,4.21],[126,4.58],[128,4.45],[128,3.66],
[110,3.4],[90,3.1],[60,2.9],[30,2.8]
];

// ---- drawing ----
Chart.defaults.font.family = "'Liberation Sans', Arial, sans-serif";
Chart.defaults.font.size = 16;
Chart.defaults.color = '#000';

const framePlugin = {
  id: 'frame',
  afterDatasetsDraw(chart) {
    const {ctx, chartArea: {left, top, right, bottom}, scales: {x, y}} = chart;
    ctx.save();
    ctx.strokeStyle = '#000';
    ctx.lineWidth = 1;
    ctx.beginPath();
    x.ticks.forEach(t => { const p = Math.round(x.getPixelForValue(t.value)) + 0.5;
      ctx.moveTo(p, bottom); ctx.lineTo(p, bottom - 4); ctx.moveTo(p, top); ctx.lineTo(p, top + 4); });
    y.ticks.forEach(t => { const p = Math.round(y.getPixelForValue(t.value)) + 0.5;
      ctx.moveTo(left, p); ctx.lineTo(left + 4, p); ctx.moveTo(right, p); ctx.lineTo(right - 4, p); });
    ctx.stroke();
    ctx.lineWidth = 2;
    ctx.strokeRect(left, top, right - left, bottom - top);
    ctx.restore();
  }
};

function series(data, color, width) {
  return { data: data, showLine: true, borderColor: color, borderWidth: width, pointRadius: 0,
           pointHoverRadius: 0, tension: 0.2, fill: false, borderJoinStyle: 'round' };
}

function makeChart(id, yTickVals, yTitleText, yWidth, yTitlePad, pad, datasets) {
  const yMin = yTickVals[0], yMax = yTickVals[yTickVals.length - 1];
  const yStep = yTickVals[1] - yTickVals[0];
  new Chart(document.getElementById(id), {
    type: 'scatter',
    data: { datasets: datasets },
    options: {
      responsive: false, animation: false, devicePixelRatio: 1,
      layout: { padding: pad },
      plugins: { legend: { display: false }, tooltip: { enabled: false } },
      scales: {
        x: {
          type: 'linear', min: xTicks[0], max: xTicks[xTicks.length - 1],
          afterBuildTicks: s => { s.ticks = xTicks.map(v => ({ value: v })); },
          afterFit: s => { s.height = 40; },
          ticks: { padding: 3, color: '#000', font: { size: 16 } },
          grid: { color: '#000', lineWidth: 1, drawTicks: false },
          border: { display: false, dash: [2, 3] },
          title: { display: true, text: xTitle, color: '#000', font: { size: 16 }, padding: { top: 0, bottom: 3 } }
        },
        y: {
          type: 'linear', min: yMin, max: yMax,
          afterBuildTicks: s => { s.ticks = yTickVals.map(v => ({ value: v })); },
          afterFit: s => { s.width = yWidth; },
          ticks: { padding: 4, color: '#000', font: { size: 16 }, stepSize: yStep },
          grid: { color: '#000', lineWidth: 1, drawTicks: false },
          border: { display: false, dash: [2, 3] },
          title: { display: true, text: yTitleText, color: '#000', font: { size: 16 }, padding: { top: yTitlePad, bottom: 0 } }
        }
      }
    },
    plugins: [framePlugin]
  });
}

makeChart('aL', loadTicks, loadTitle, 57, 7, { top: 13, right: 18, left: 0, bottom: 0 },
  [series(hollowLoad, '#000', 1.2)]);
makeChart('aR', vertTicks, vertTitle, 56, 23, { top: 12, right: 14, left: 0, bottom: 0 },
  [series(hollowVert, '#000', 1.2)]);
makeChart('bL', loadTicks, loadTitle, 57, 7, { top: 13, right: 18, left: 0, bottom: 0 },
  [series(solidLoadRed, '#ee0000', 2.6), series(solidLoad, '#000', 1.2)]);
makeChart('bR', vertTicks, vertTitle, 56, 23, { top: 14, right: 14, left: 0, bottom: 0 },
  [series(solidVertRed, '#ee0000', 2.6), series(solidVert, '#000', 1.2)]);
makeChart('cL', loadTicks, loadTitle, 57, 7, { top: 13, right: 18, left: 0, bottom: 0 },
  [series(filledLoadRed, '#ee0000', 1.3), series(filledLoad, '#000', 1.2)]);
makeChart('cR', vertTicks, vertTitle, 56, 23, { top: 12, right: 14, left: 0, bottom: 0 },
  [series(filledVertRed, '#ee0000', 1.3), series(filledVert, '#000', 1.2)]);
</script>
</body></html>
